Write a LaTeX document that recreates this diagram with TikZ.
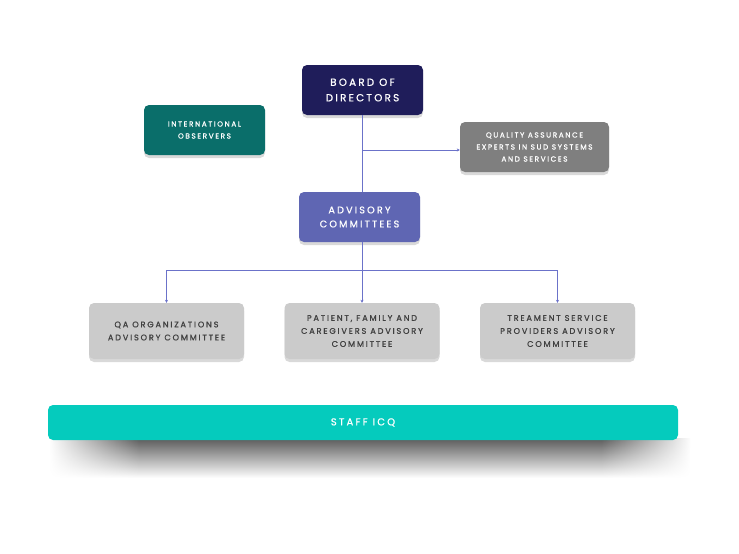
\documentclass[tikz,border=0pt]{standalone}
\usepackage{fontspec}
\setmainfont{Poppins}[LetterSpace=22, FakeBold=0.9]
\usepackage{tikz}
\usetikzlibrary{arrows.meta,shadows,fadings}
\definecolor{board}{HTML}{1F1D5A}
\definecolor{observer}{HTML}{0A6E6A}
\definecolor{expert}{HTML}{7F7F7F}
\definecolor{advisory}{HTML}{5F66B3}
\definecolor{committee}{HTML}{CBCBCB}
\definecolor{staff}{HTML}{05CBBD}
\definecolor{link}{HTML}{6B72C9}
\pgfdeclarehorizontalshading{sideshade}{100bp}{color(0bp)=(transparent!100); color(25bp)=(transparent!100);
  color(32bp)=(transparent!0); color(68bp)=(transparent!0); color(75bp)=(transparent!100); color(100bp)=(transparent!100)}
\tikzfading[name=sidefade, shading=sideshade]

\begin{document}
\begin{tikzpicture}[x=1pt, y=-1pt,
  box/.style={rounded corners=5pt, minimum height=50pt, align=center, text=white,
    drop shadow={opacity=0.3, shadow xshift=0pt, shadow yshift=-3pt}},
  topbox/.style={box, fill=board, minimum width=121pt, font=\fontsize{10.3}{15.5}\selectfont},
  sidebox/.style={box, minimum width=121pt, font=\fontsize{7.3}{12}\selectfont},
  combox/.style={box, fill=committee, text=black!75, minimum width=155pt, minimum height=56pt, font=\fontsize{8.2}{13}\selectfont},
  arr/.style={-{Stealth[length=3pt, width=3pt]}, draw=link, line width=0.5pt},
  lnk/.style={draw=link, line width=0.5pt}
]
  \useasboundingbox (0,0) rectangle (739,554);

  % staff band with a soft shadow
  \shade[top color=black!65, bottom color=white, path fading=sidefade]
    (50,438) rectangle (690,478);
  \node[rounded corners=5pt, fill=staff, text=white, minimum width=630pt, minimum height=35pt,
    font=\fontsize{10}{12}\selectfont] (staff) at (363,422.5) {STAFF ICQ};

  \node[topbox] (board) at (362.5,90) {BOARD OF\\DIRECTORS};
  \node[sidebox, fill=observer] (observers) at (204.5,130) {INTERNATIONAL\\OBSERVERS};
  \node[sidebox, fill=expert, minimum width=149pt] (experts) at (534.5,147) {QUALITY ASSURANCE\\EXPERTS IN SUD SYSTEMS\\AND SERVICES};
  \node[topbox, fill=advisory, font=\fontsize{9.7}{14}\selectfont] (advisory) at (359.5,217) {ADVISORY\\COMMITTEES};

  \node[combox] (qaorg) at (166.5,331) {QA ORGANIZATIONS\\ADVISORY COMMITTEE};
  \node[combox] (patient) at (362,331) {PATIENT, FAMILY AND\\CAREGIVERS ADVISORY\\COMMITTEE};
  \node[combox] (treatment) at (557.5,331) {TREAMENT SERVICE\\PROVIDERS ADVISORY\\COMMITTEE};

  \coordinate (split) at (362,150);
  \coordinate (bus) at (362,270);

  \draw[lnk] (board.south -| split) -- (advisory.north -| split);
  \draw[arr] (split) -- (experts.west |- split);
  \draw[lnk] (advisory.south -| bus) -- (bus);
  \draw[arr] (bus) -| (qaorg.north);
  \draw[arr] (bus) -- (patient.north -| bus);
  \draw[arr] (bus) -| (treatment.north);
\end{tikzpicture}
\end{document}
